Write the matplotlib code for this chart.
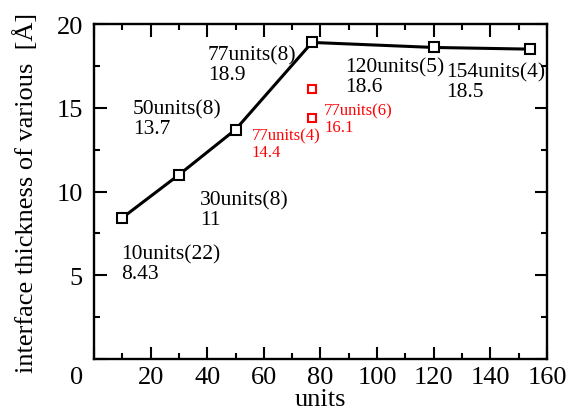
import matplotlib
matplotlib.use('Agg')
import matplotlib.pyplot as plt
from matplotlib.ticker import MultipleLocator, FixedLocator, FixedFormatter
from matplotlib.transforms import ScaledTranslation

# --- dados ---
units = [10, 30, 50, 77, 120, 154]
thickness = [8.43, 11, 13.7, 18.9, 18.6, 18.5]
labels = ['10units(22)\n8.43', '30units(8)\n11', '50units(8)\n13.7',
          '77units(8)\n18.9', '120units(5)\n18.6', '154units(4)\n18.5']
label_pos = [(9.5, 6.85), (37.5, 10.1), (13.8, 15.5),
             (40.3, 18.75), (88.7, 18.0), (124.4, 17.7)]

red_units = [77, 77]
red_thickness = [16.1, 14.4]
red_labels = ['77units(6)\n16.1', '77units(4)\n14.4']
red_label_pos = [(81.3, 15.3), (55.8, 13.8)]

plt.rcParams['font.family'] = ['Liberation Serif', 'DejaVu Serif']

fig = plt.figure(figsize=(5.68, 4.14), dpi=100)
ax = fig.add_axes([0.1655, 0.1304, 0.963 - 0.1655, 0.9396 - 0.1304])

ax.plot(units, thickness, color='black', lw=2.2, marker='s', ms=6.5,
        mfc='white', mec='black', mew=1.5, zorder=3)
ax.plot(red_units, red_thickness, ls='none', marker='s', ms=5.5,
        mfc='white', mec='red', mew=1.5, zorder=3)

for txt, (x, y) in zip(labels, label_pos):
    ax.text(x, y, txt, fontsize=15.5, color='black', va='top', ha='left',
            linespacing=1.05)
for txt, (x, y) in zip(red_labels, red_label_pos):
    ax.text(x, y, txt, fontsize=12, color='red', va='top', ha='left',
            linespacing=1.05)

ax.set_xlim(0, 160)
ax.set_ylim(0, 20)
ax.xaxis.set_major_locator(FixedLocator(list(range(0, 161, 20))))
ax.xaxis.set_major_formatter(FixedFormatter([''] + [str(v) for v in range(20, 161, 20)]))
ax.xaxis.set_minor_locator(MultipleLocator(10))
ax.yaxis.set_major_locator(FixedLocator([0, 5, 10, 15, 20]))
ax.yaxis.set_major_formatter(FixedFormatter(['0', '5', '10', '15', '20']))
ax.yaxis.set_minor_locator(MultipleLocator(2.5))

ax.tick_params(which='both', direction='in', top=True, right=True,
               width=1.5, labelsize=19)
ax.tick_params(which='major', length=9)
ax.tick_params(which='minor', length=4.5)
ax.tick_params(axis='x', pad=5)
ax.tick_params(axis='y', pad=8)
for s in ax.spines.values():
    s.set_linewidth(1.7)

# o "0" do eixo y fica abaixo do canto
fig.canvas.draw()
for lab in ax.get_yticklabels():
    if lab.get_text() == '0':
        lab.set_va('top')
        lab.set_transform(lab.get_transform() +
                          ScaledTranslation(0, -5 / 72, fig.dpi_scale_trans))

ax.set_xlabel('units', fontsize=19, labelpad=0)
ax.set_ylabel('interface thickness of various  [Å]', fontsize=19, labelpad=13)

fig.savefig('out.png', dpi=100)
